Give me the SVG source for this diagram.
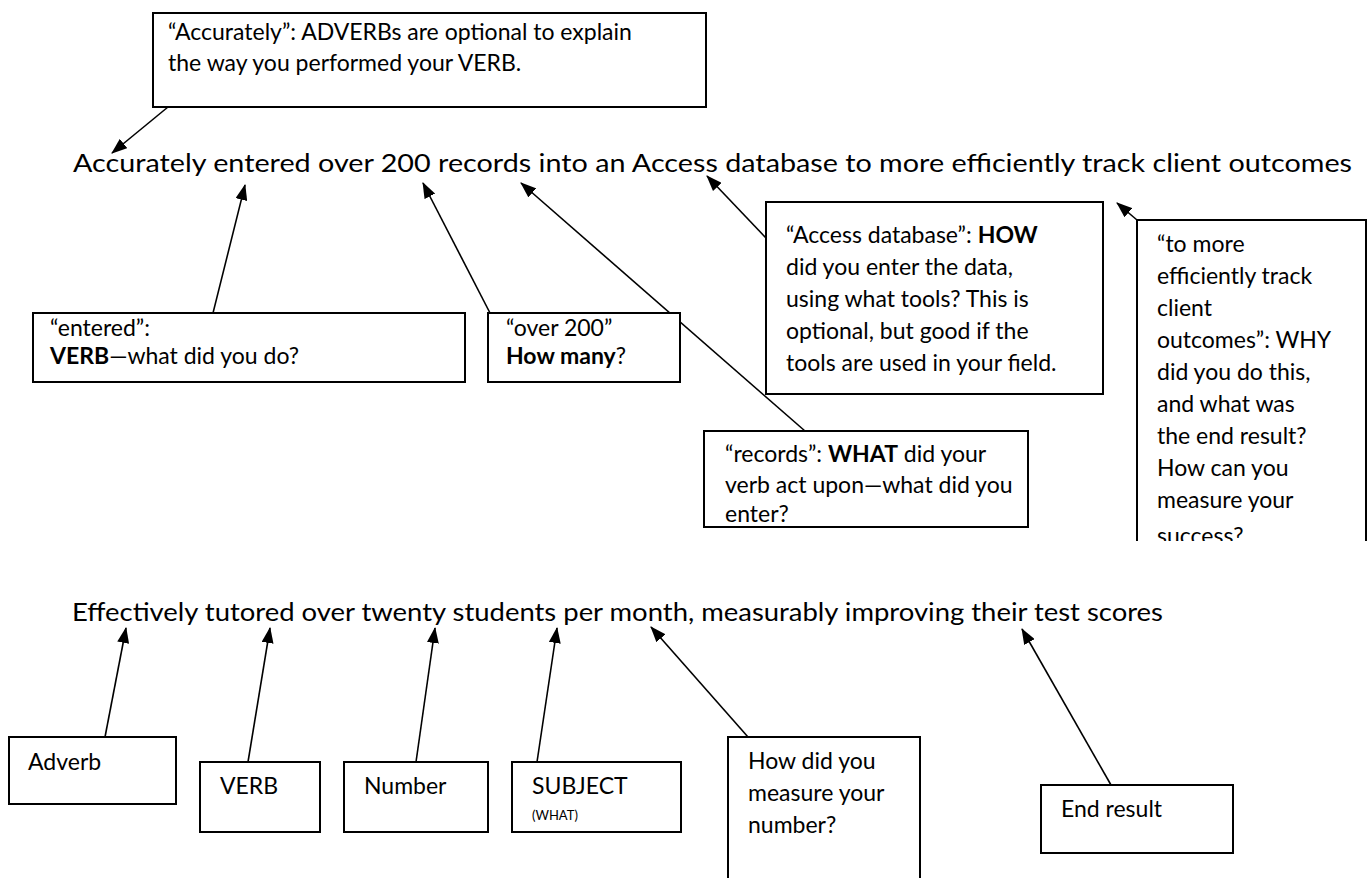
<svg xmlns="http://www.w3.org/2000/svg" width="1368" height="878" viewBox="0 0 1368 878">
<defs>
<marker id="ah" markerUnits="userSpaceOnUse" markerWidth="16" markerHeight="12" refX="15" refY="6" orient="auto">
<path d="M0,0 L16,6 L0,12 z" fill="#000"/>
</marker>
<clipPath id="clipR"><rect x="1137" y="220" width="229" height="321"/></clipPath>
<style>
text{font-family:Lato,"Liberation Sans",sans-serif;fill:#000}
.s{font-size:25.5px}
.b{font-size:23px}
.sm{font-size:13px}
.bold{font-weight:bold}
.box{fill:#fff;stroke:#000;stroke-width:2}
#connectors line{stroke:#000;stroke-width:1.6;marker-end:url(#ah)}
</style>
</defs>
<rect width="1368" height="878" fill="#fff"/>

<g id="sentence1"><text class="s" x="73" y="172" textLength="1279" lengthAdjust="spacingAndGlyphs">Accurately entered over 200 records into an Access database to more efficiently track client outcomes</text></g>
<g id="sentence2"><text class="s" x="72" y="621" textLength="1091" lengthAdjust="spacingAndGlyphs">Effectively tutored over twenty students per month, measurably improving their test scores</text></g>

<g id="connectors">
<line x1="168" y1="107" x2="112" y2="153"/>
<line x1="213" y1="313" x2="245" y2="185"/>
<line x1="490" y1="313" x2="423" y2="183"/>
<line x1="805" y1="431" x2="521" y2="183"/>
<line x1="766" y1="238" x2="707" y2="176"/>
<line x1="1137" y1="220" x2="1117" y2="203"/>
<line x1="105" y1="737" x2="126" y2="628"/>
<line x1="248" y1="762" x2="270" y2="628"/>
<line x1="416" y1="762" x2="435" y2="628"/>
<line x1="537" y1="762" x2="557" y2="628"/>
<line x1="748" y1="737" x2="651" y2="627"/>
<line x1="1111" y1="785" x2="1022" y2="629"/>
</g>

<g id="node-accurately">
<rect class="box" x="153" y="13" width="553" height="94"/>
<text class="b" x="168" y="40">“Accurately”: ADVERBs are optional to explain</text>
<text class="b" x="168" y="71">the way you performed your VERB.</text>
</g>

<g id="node-entered">
<rect class="box" x="33" y="313" width="432" height="69"/>
<text class="b" x="50" y="336">“entered”:</text>
<text class="b" x="50" y="364"><tspan class="bold">VERB</tspan>—what did you do?</text>
</g>

<g id="node-over200">
<rect class="box" x="488" y="313" width="192" height="69"/>
<text class="b" x="506" y="336">“over 200”</text>
<text class="b" x="506" y="364"><tspan class="bold">How many</tspan>?</text>
</g>

<g id="node-access">
<rect class="box" x="766" y="202" width="337" height="192"/>
<text class="b" x="786" y="243">“Access database”: <tspan class="bold">HOW</tspan></text>
<text class="b" x="786" y="275">did you enter the data,</text>
<text class="b" x="786" y="307">using what tools? This is</text>
<text class="b" x="786" y="339">optional, but good if the</text>
<text class="b" x="786" y="371">tools are used in your field.</text>
</g>

<g id="node-records">
<rect class="box" x="704" y="431" width="324" height="96"/>
<text class="b" x="725" y="462">“records”: <tspan class="bold">WHAT</tspan> did your</text>
<text class="b" x="725" y="493">verb act upon—what did you</text>
<text class="b" x="725" y="522">enter?</text>
</g>

<g id="node-why">
<path class="box" d="M1137,541 V220 H1366 V541"/>
<g clip-path="url(#clipR)">
<text class="b" x="1157" y="252">“to more</text>
<text class="b" x="1157" y="284">efficiently track</text>
<text class="b" x="1157" y="316">client</text>
<text class="b" x="1157" y="348">outcomes”: WHY</text>
<text class="b" x="1157" y="380">did you do this,</text>
<text class="b" x="1157" y="412">and what was</text>
<text class="b" x="1157" y="444">the end result?</text>
<text class="b" x="1157" y="476">How can you</text>
<text class="b" x="1157" y="508">measure your</text>
<text class="b" x="1157" y="544">success?</text>
</g>
</g>

<g id="node-adverb">
<rect class="box" x="9" y="737" width="167" height="67"/>
<text class="b" x="28" y="770">Adverb</text>
</g>
<g id="node-verb">
<rect class="box" x="200" y="762" width="120" height="70"/>
<text class="b" x="220" y="794">VERB</text>
</g>
<g id="node-number">
<rect class="box" x="344" y="762" width="144" height="70"/>
<text class="b" x="364" y="794">Number</text>
</g>
<g id="node-subject">
<rect class="box" x="512" y="762" width="169" height="70"/>
<text class="b" x="532" y="794">SUBJECT</text>
<text class="sm" x="532" y="820">(WHAT)</text>
</g>
<g id="node-measure">
<rect class="box" x="728" y="737" width="192" height="145"/>
<text class="b" x="748" y="769">How did you</text>
<text class="b" x="748" y="801">measure your</text>
<text class="b" x="748" y="833">number?</text>
</g>
<g id="node-endresult">
<rect class="box" x="1041" y="785" width="192" height="68"/>
<text class="b" x="1061" y="817">End result</text>
</g>
</svg>
